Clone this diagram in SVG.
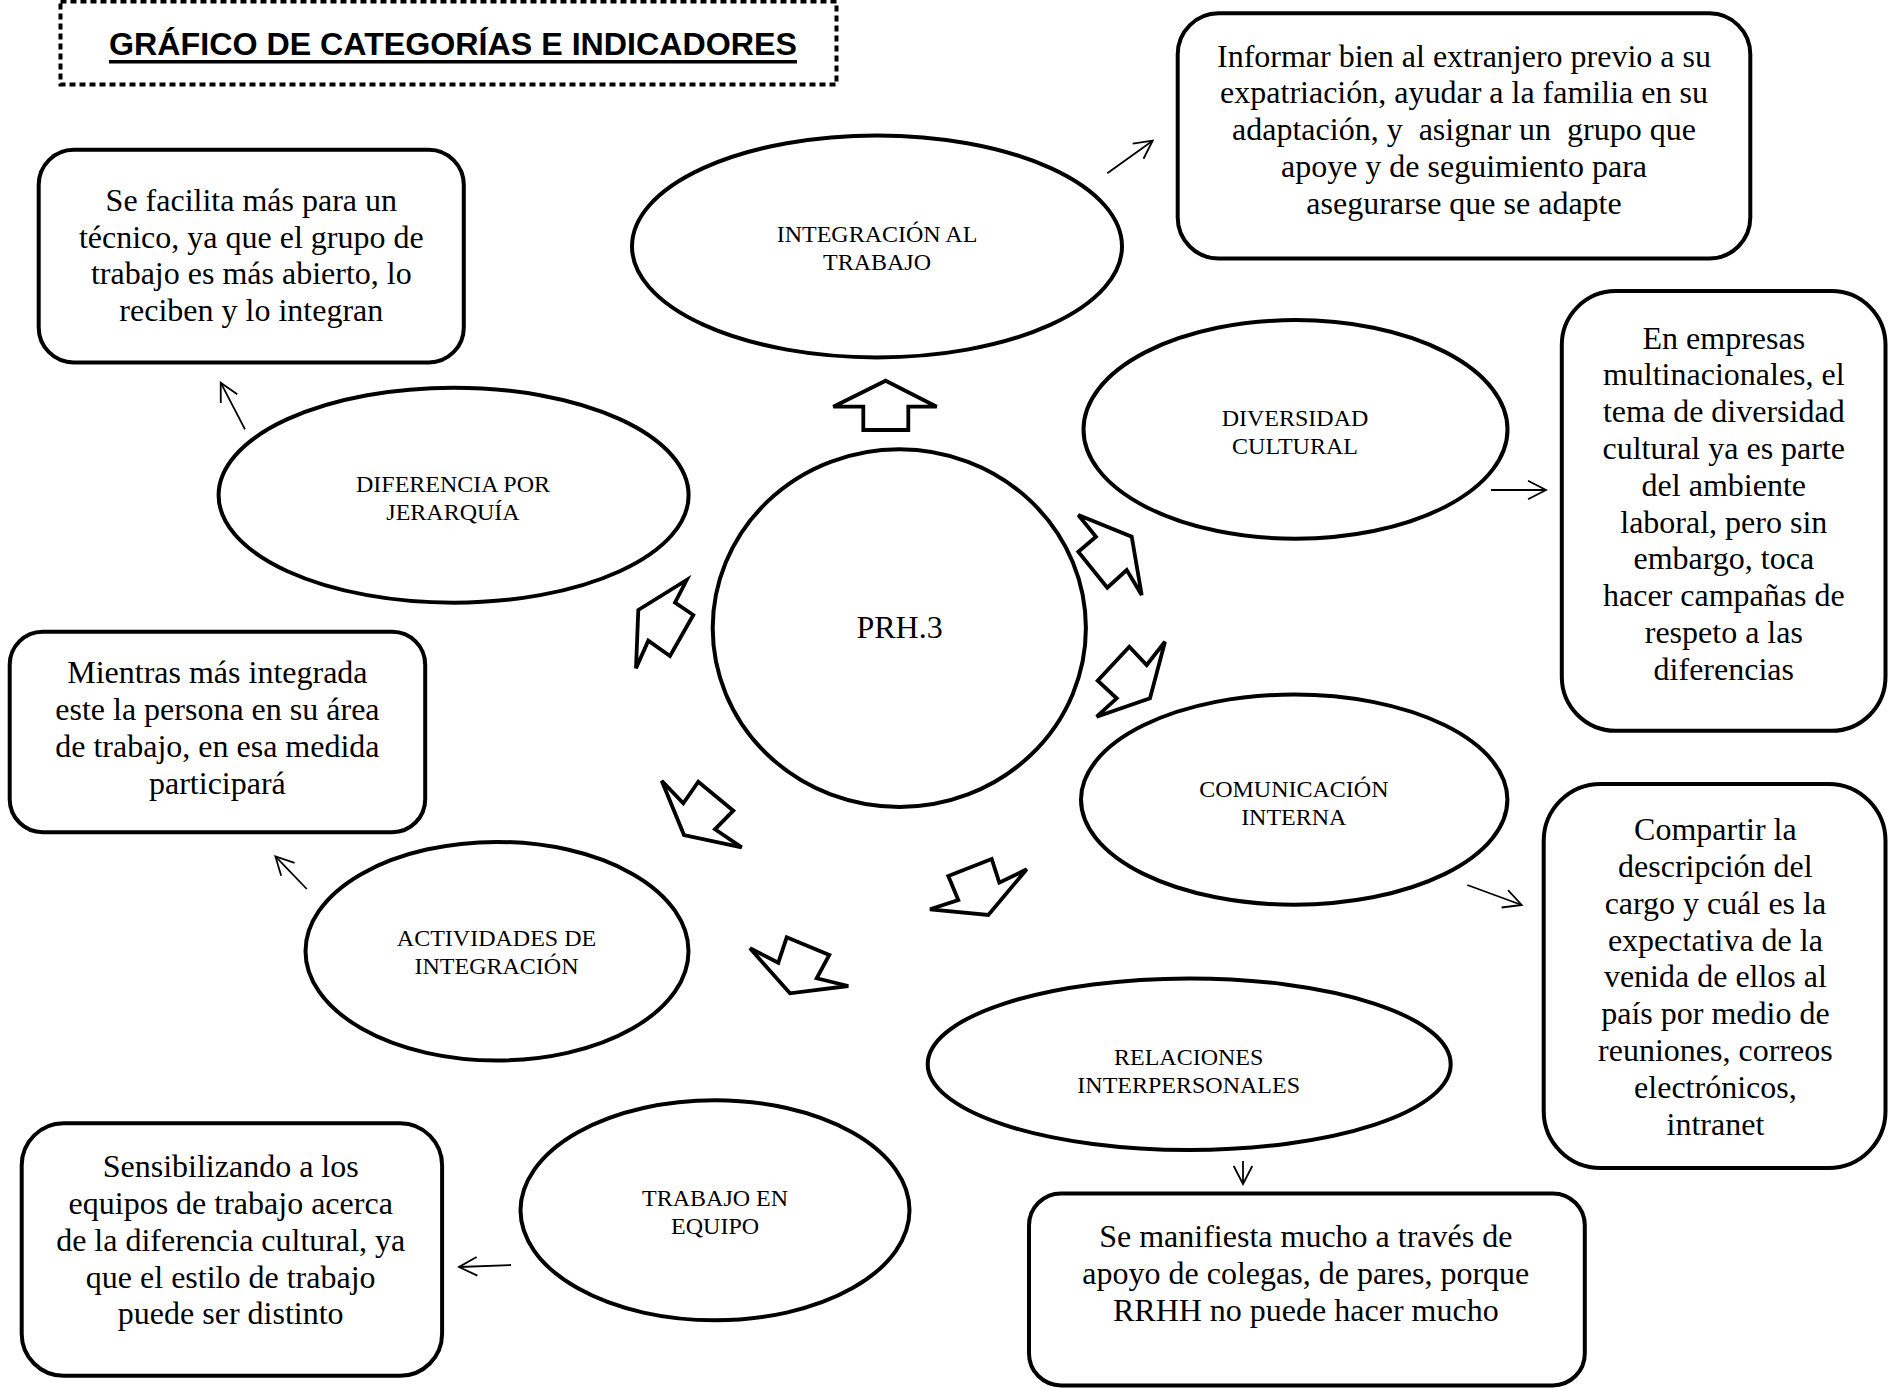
<svg xmlns="http://www.w3.org/2000/svg" width="1894" height="1388" viewBox="0 0 1894 1388">
  <defs>
    <style>
      .box { fill: #fff; stroke: #000; stroke-width: 4; }
      .ell { fill: #fff; stroke: #000; stroke-width: 4; }
      .blk { fill: #fff; stroke: #000; stroke-width: 3.8; stroke-linejoin: miter; stroke-miterlimit: 4; }
      .thin { fill: none; stroke: #000; stroke-width: 1.8; marker-end: url(#vhead); }
      .bt { font-family: "Liberation Serif", "Times New Roman", serif; font-size: 32px; fill: #000; text-anchor: middle; }
      .et { font-family: "Liberation Serif", "Times New Roman", serif; font-size: 24px; fill: #000; text-anchor: middle; }
    </style>
    <marker id="vhead" viewBox="0 0 18 20" refX="18" refY="10" markerWidth="18" markerHeight="20" markerUnits="userSpaceOnUse" orient="auto" overflow="visible">
      <path d="M0,0.7 L18,10 L0,19.3" fill="none" stroke="#000" stroke-width="1.8"/>
    </marker>
  </defs>
  <rect width="1894" height="1388" fill="#fff"/>

  <!-- title -->
  <g id="title">
    <rect x="60.5" y="1.5" width="776" height="83" fill="none" stroke="#000" stroke-width="4" stroke-dasharray="6 4"/>
    <text x="453" y="55" font-family="'Liberation Sans', Arial, sans-serif" font-size="32" font-weight="bold" text-anchor="middle" textLength="688" lengthAdjust="spacingAndGlyphs">GRÁFICO DE CATEGORÍAS E INDICADORES</text>
    <rect x="109" y="60" width="688" height="3.5" fill="#000"/>
  </g>

  <!-- connectors: block arrows out of the centre, thin arrows to the notes -->
  <g id="connectors">
    <polygon class="blk" points="885.7,380.7 936.7,406.7 908.3,406.7 908.3,430 863.3,430 863.3,406.7 833.3,406.7"/>
    <polygon class="blk" points="1078.3,515 1131.7,536.7 1141.7,595 1126.7,570 1107.3,587.7 1078.3,551.7 1096,536.7"/>
    <polygon class="blk" points="1165,641.7 1150,698.3 1096.7,716.7 1116.7,698.3 1097.7,680.7 1129.3,646.7 1146.7,665"/>
    <polygon class="blk" points="686.7,580 675,602.7 693.3,615 670,656 648.3,640.7 636,668.3 638.3,610"/>
    <polygon class="blk" points="661.7,780.7 683.3,803.3 698.3,781.7 733.3,810.7 715,829.3 741.7,847.3 684,835"/>
    <polygon class="blk" points="1026.7,869.3 988.3,915 930,909.3 958.3,900 948.3,876 991.7,859 999.3,882.7"/>
    <polygon class="blk" points="750,948.3 790,993.3 848.3,986 816.7,978.3 829.3,955 786.7,937.3 778.3,962.7"/>

    <line class="thin" x1="1107.3" y1="173.3" x2="1152.7" y2="140.7"/>
    <line class="thin" x1="245" y1="429.3" x2="220.7" y2="382.7"/>
    <line class="thin" x1="1491" y1="490" x2="1546" y2="490"/>
    <line class="thin" x1="1467.3" y1="885" x2="1521.7" y2="905"/>
    <line class="thin" x1="1243" y1="1161" x2="1243" y2="1184"/>
    <line class="thin" x1="511" y1="1265" x2="459" y2="1267"/>
    <line class="thin" x1="306.8" y1="889" x2="275.4" y2="856.4"/>
  </g>

  <!-- centre -->
  <g id="prh3">
    <ellipse class="ell" cx="899.3" cy="628.1" rx="186.6" ry="178.8"/>
    <text class="bt" x="899.5" y="638.3" font-size="31">PRH.3</text>
  </g>

  <!-- categories -->
  <g id="cat-integracion">
    <ellipse class="ell" cx="877" cy="246.4" rx="245" ry="111"/>
    <text class="et" x="877" y="242.2">INTEGRACIÓN AL</text>
    <text class="et" x="877" y="270">TRABAJO</text>
  </g>
  <g id="cat-diversidad">
    <ellipse class="ell" cx="1295.5" cy="429.4" rx="212" ry="109.3"/>
    <text class="et" x="1295" y="425.8">DIVERSIDAD</text>
    <text class="et" x="1295" y="453.6">CULTURAL</text>
  </g>
  <g id="cat-jerarquia">
    <ellipse class="ell" cx="453.6" cy="495.2" rx="235" ry="107.5"/>
    <text class="et" x="453" y="492.3">DIFERENCIA POR</text>
    <text class="et" x="453" y="520.1">JERARQUÍA</text>
  </g>
  <g id="cat-comunicacion">
    <ellipse class="ell" cx="1294.2" cy="799.6" rx="213.2" ry="105.1"/>
    <text class="et" x="1293.8" y="796.7">COMUNICACIÓN</text>
    <text class="et" x="1293.8" y="824.5">INTERNA</text>
  </g>
  <g id="cat-actividades">
    <ellipse class="ell" cx="497" cy="951.2" rx="191.5" ry="109.3"/>
    <text class="et" x="496.5" y="946.4">ACTIVIDADES DE</text>
    <text class="et" x="496.5" y="974.2">INTEGRACIÓN</text>
  </g>
  <g id="cat-relaciones">
    <ellipse class="ell" cx="1189.2" cy="1064.2" rx="261.5" ry="85.8"/>
    <text class="et" x="1188.7" y="1064.8">RELACIONES</text>
    <text class="et" x="1188.7" y="1092.6">INTERPERSONALES</text>
  </g>
  <g id="cat-equipo">
    <ellipse class="ell" cx="715" cy="1210.3" rx="194.5" ry="110"/>
    <text class="et" x="715.1" y="1206.2">TRABAJO EN</text>
    <text class="et" x="715.1" y="1234">EQUIPO</text>
  </g>

  <!-- indicator notes -->
  <g id="note-integracion">
    <rect class="box" x="1177.7" y="13.3" width="572.6" height="245.2" rx="41" ry="41"/>
    <text class="bt" x="1464" y="66.5">Informar bien al extranjero previo a su</text>
    <text class="bt" x="1464" y="103.3">expatriación, ayudar a la familia en su</text>
    <text class="bt" x="1464" y="140.1" xml:space="preserve">adaptación, y  asignar un  grupo que</text>
    <text class="bt" x="1464" y="176.9">apoye y de seguimiento para</text>
    <text class="bt" x="1464" y="213.7">asegurarse que se adapte</text>
  </g>
  <g id="note-jerarquia">
    <rect class="box" x="38.7" y="149.8" width="425.1" height="212.6" rx="35" ry="35"/>
    <text class="bt" x="251.3" y="210.8">Se facilita más para un</text>
    <text class="bt" x="251.3" y="247.6">técnico, ya que el grupo de</text>
    <text class="bt" x="251.3" y="284.4">trabajo es más abierto, lo</text>
    <text class="bt" x="251.3" y="321.2">reciben y lo integran</text>
  </g>
  <g id="note-diversidad">
    <rect class="box" x="1561.8" y="291.1" width="323.7" height="439.7" rx="54" ry="54"/>
    <text class="bt" x="1723.8" y="348.5">En empresas</text>
    <text class="bt" x="1723.8" y="385.3">multinacionales, el</text>
    <text class="bt" x="1723.8" y="422.1">tema de diversidad</text>
    <text class="bt" x="1723.8" y="458.9">cultural ya es parte</text>
    <text class="bt" x="1723.8" y="495.7">del ambiente</text>
    <text class="bt" x="1723.8" y="532.5">laboral, pero sin</text>
    <text class="bt" x="1723.8" y="569.3">embargo, toca</text>
    <text class="bt" x="1723.8" y="606.1">hacer campañas de</text>
    <text class="bt" x="1723.8" y="642.9">respeto a las</text>
    <text class="bt" x="1723.8" y="679.7">diferencias</text>
  </g>
  <g id="note-actividades">
    <rect class="box" x="9.7" y="631.7" width="415.5" height="200.5" rx="33" ry="33"/>
    <text class="bt" x="217.4" y="683.1">Mientras más integrada</text>
    <text class="bt" x="217.4" y="719.9">este la persona en su área</text>
    <text class="bt" x="217.4" y="756.7">de trabajo, en esa medida</text>
    <text class="bt" x="217.4" y="793.5">participará</text>
  </g>
  <g id="note-comunicacion">
    <rect class="box" x="1543.7" y="784" width="341.8" height="384" rx="57" ry="57"/>
    <text class="bt" x="1715.4" y="840.2">Compartir la</text>
    <text class="bt" x="1715.4" y="877">descripción del</text>
    <text class="bt" x="1715.4" y="913.8">cargo y cuál es la</text>
    <text class="bt" x="1715.4" y="950.6">expectativa de la</text>
    <text class="bt" x="1715.4" y="987.4">venida de ellos al</text>
    <text class="bt" x="1715.4" y="1024.2">país por medio de</text>
    <text class="bt" x="1715.4" y="1061">reuniones, correos</text>
    <text class="bt" x="1715.4" y="1097.8">electrónicos,</text>
    <text class="bt" x="1715.4" y="1134.6">intranet</text>
  </g>
  <g id="note-equipo">
    <rect class="box" x="21.7" y="1123.3" width="420.4" height="252.5" rx="42" ry="42"/>
    <text class="bt" x="230.7" y="1177.2">Sensibilizando a los</text>
    <text class="bt" x="230.7" y="1214">equipos de trabajo acerca</text>
    <text class="bt" x="230.7" y="1250.8">de la diferencia cultural, ya</text>
    <text class="bt" x="230.7" y="1287.6">que el estilo de trabajo</text>
    <text class="bt" x="230.7" y="1324.4">puede ser distinto</text>
  </g>
  <g id="note-relaciones">
    <rect class="box" x="1029" y="1193.4" width="555.8" height="192" rx="32" ry="32"/>
    <text class="bt" x="1305.8" y="1247">Se manifiesta mucho a través de</text>
    <text class="bt" x="1305.8" y="1283.8">apoyo de colegas, de pares, porque</text>
    <text class="bt" x="1305.8" y="1320.6">RRHH no puede hacer mucho</text>
  </g>
</svg>
